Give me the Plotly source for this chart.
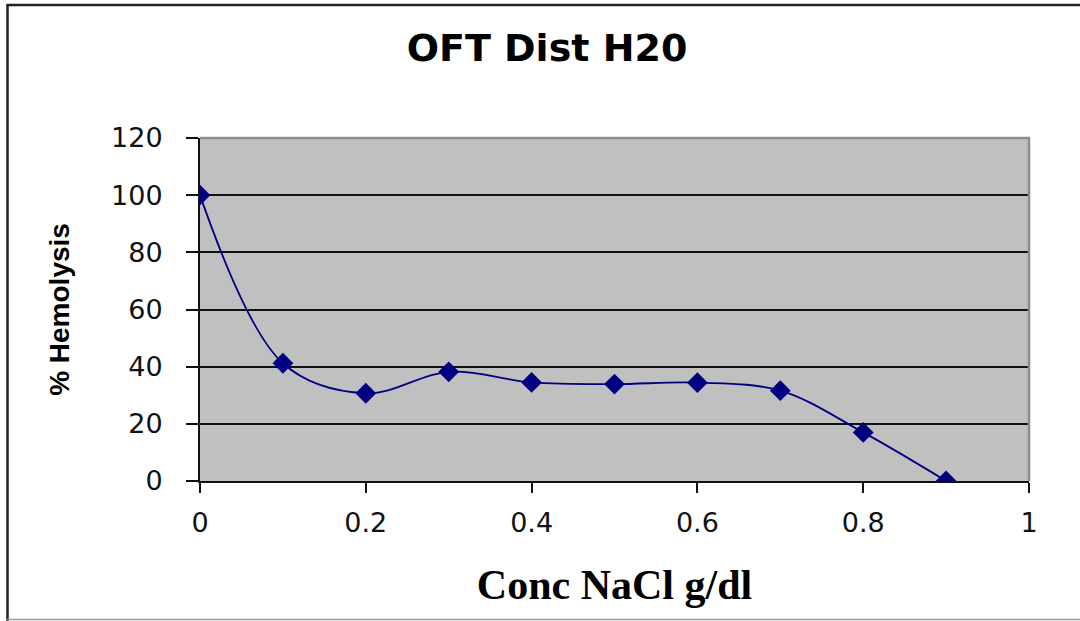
import plotly.graph_objects as go

# Osmotic fragility test, distilled water reference
conc_nacl = [0.0, 0.1, 0.2, 0.3, 0.4, 0.5, 0.6, 0.7, 0.8, 0.9]
hemolysis_pct = [100, 41.2, 30.7, 38.2, 34.5, 33.9, 34.4, 31.6, 17.0, 0]

x_ticks = [0, 0.2, 0.4, 0.6, 0.8, 1]
x_tick_text = ["0", "0.2", "0.4", "0.6", "0.8", "1"]
y_ticks = [0, 20, 40, 60, 80, 100, 120]

NAVY = "#000080"
TICK_FONT = dict(family="DejaVu Sans", size=27, color="#111111")

fig = go.Figure()
fig.add_trace(go.Scatter(
    x=conc_nacl,
    y=hemolysis_pct,
    mode="lines+markers",
    line=dict(color=NAVY, width=1.8, shape="spline", smoothing=1.0),
    marker=dict(symbol="diamond", size=16, color=NAVY),
    hoverinfo="skip",
    showlegend=False,
))

fig.update_layout(
    width=1080,
    height=621,
    margin=dict(l=200, r=51, t=138, b=140, autoexpand=False),
    paper_bgcolor="white",
    plot_bgcolor="#C0C0C0",
    title=dict(
        text="<b>OFT Dist H20</b>",
        font=dict(family="DejaVu Sans", size=38, color="#000000"),
        x=547 / 1080, xref="container", xanchor="center",
        y=1 - 48 / 621, yref="container", yanchor="middle",
    ),
    xaxis=dict(
        range=[0, 1],
        tickvals=x_ticks,
        ticktext=x_tick_text,
        showgrid=False,
        zeroline=False,
        showline=True,
        linecolor="#111111",
        linewidth=2,
        ticks="outside",
        ticklen=10,
        tickwidth=2,
        tickcolor="#111111",
        tickfont=TICK_FONT,
        ticklabelstandoff=7,
        title=dict(
            text="<b>Conc NaCl g/dl</b>",
            font=dict(family="Liberation Serif", size=42, color="#000000"),
            standoff=32,
        ),
        automargin=False,
    ),
    yaxis=dict(
        range=[0, 120],
        tickvals=y_ticks,
        showgrid=True,
        gridcolor="#111111",
        gridwidth=2,
        zeroline=False,
        showline=True,
        linecolor="#111111",
        linewidth=2,
        ticks="outside",
        ticklen=12,
        tickwidth=2,
        tickcolor="#111111",
        tickfont=TICK_FONT,
        ticklabelstandoff=18,
        title=dict(
            text="<b>% Hemolysis</b>",
            font=dict(family="Liberation Sans", size=28, color="#000000"),
            standoff=33,
        ),
        automargin=False,
    ),
    shapes=[
        # grey plot-area frame on the top and right edges
        dict(type="path", xref="paper", yref="paper",
             path="M 0 1 L 1 1 L 1 0",
             line=dict(color="#8c8c8c", width=2.5), layer="above"),
        # outer chart border (top, left, bottom)
        dict(type="line", xref="paper", yref="paper",
             x0=-0.2328, x1=1.07, y0=(481 - 5) / 343, y1=(481 - 5) / 343,
             line=dict(color="#222222", width=2.5)),
        dict(type="line", xref="paper", yref="paper",
             x0=(7.5 - 200) / 829, x1=(7.5 - 200) / 829,
             y0=(481 - 4) / 343, y1=(481 - 621) / 343,
             line=dict(color="#222222", width=2.5)),
        dict(type="line", xref="paper", yref="paper",
             x0=-0.2328, x1=1.07, y0=(481 - 619.5) / 343, y1=(481 - 619.5) / 343,
             line=dict(color="#9a9a9a", width=1.5)),
    ],
)

fig.write_html("out.html", config={"displayModeBar": False})
